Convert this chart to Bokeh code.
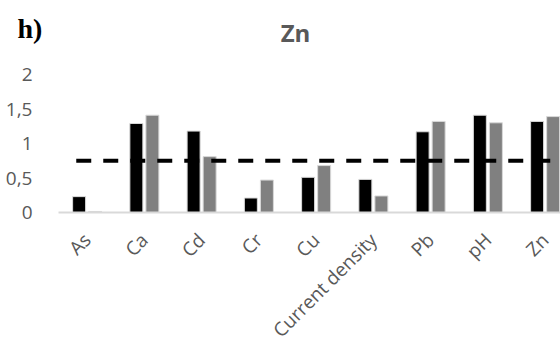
from bokeh.plotting import figure
from bokeh.models import Range1d, FixedTicker, Label
from bokeh.embed import file_html
from bokeh.resources import INLINE
import numpy as np

categories = ["As", "Ca", "Cd", "Cr", "Cu", "Current density", "Pb", "pH", "Zn"]
series_black = [0.23, 1.29, 1.18, 0.21, 0.51, 0.48, 1.17, 1.41, 1.32]
series_gray = [0.015, 1.41, 0.81, 0.47, 0.68, 0.24, 1.32, 1.30, 1.39]
threshold = 0.75
y_ticks = [0, 0.5, 1, 1.5, 2]
y_tick_labels = ["0", "0,5", "1", "1,5", "2"]

FONT = "Open Sans"
TXT = "#595959"

# frame covers the whole canvas; axes are pinned inside it
PX_X = 57.25   # pixels per category
PX_Y = 69.0    # pixels per unit
X0, Y0 = 58, 212
W, H = 560, 343

p = figure(width=W, height=H, output_backend="svg", toolbar_location=None,
           x_range=Range1d(-X0 / PX_X, (W - X0) / PX_X),
           y_range=Range1d(-(H - Y0) / PX_Y, Y0 / PX_Y),
           min_border_left=0, min_border_right=0, min_border_top=0, min_border_bottom=0)
p.outline_line_color = None
p.grid.grid_line_color = None
p.background_fill_color = "white"

xc = np.arange(len(categories)) + 0.5
off = 0.14
bw = 0.227
p.vbar(x=xc - off, top=series_black, width=bw, bottom=0, fill_color="black",
       line_color="#d9d9d9", line_width=1)
p.vbar(x=xc + off, top=series_gray, width=bw, bottom=0, fill_color="#808080",
       line_color="#d9d9d9", line_width=1)

p.line(x=[0.31, (W - X0) / PX_X], y=[threshold, threshold], line_color="black",
       line_width=4, line_dash="15 12")

xa = p.xaxis[0]
xa.fixed_location = 0
xa.bounds = (0, (W - X0) / PX_X)
xa.ticker = FixedTicker(ticks=list(xc))
xa.major_label_overrides = {float(v): c for v, c in zip(xc, categories)}
xa.major_label_orientation = np.pi / 4
xa.axis_line_color = "#d9d9d9"
xa.axis_line_width = 2
xa.major_tick_line_color = None
xa.minor_tick_line_color = None
xa.major_label_standoff = 18
xa.major_label_text_font = FONT
xa.major_label_text_font_size = "19px"
xa.major_label_text_color = TXT

ya = p.yaxis[0]
ya.fixed_location = 0
ya.bounds = (0, 2)
ya.ticker = FixedTicker(ticks=y_ticks)
ya.major_label_overrides = {float(v): s for v, s in zip(y_ticks, y_tick_labels)}
ya.axis_line_color = None
ya.major_tick_line_color = None
ya.minor_tick_line_color = None
ya.major_label_standoff = 20
ya.major_label_text_font = FONT
ya.major_label_text_font_size = "19px"
ya.major_label_text_color = TXT

p.add_layout(Label(x=(295 - X0) / PX_X, y=(Y0 - 32) / PX_Y, text="Zn",
                   text_font=FONT, text_font_style="bold", text_font_size="24px",
                   text_color=TXT, text_align="center", text_baseline="middle"))
p.add_layout(Label(x=(17 - X0) / PX_X, y=(Y0 - 28) / PX_Y, text="h)",
                   text_font="Liberation Serif", text_font_style="bold",
                   text_font_size="28px", text_color="black",
                   text_align="left", text_baseline="middle"))

open("out.html", "w").write(file_html(p, INLINE))
